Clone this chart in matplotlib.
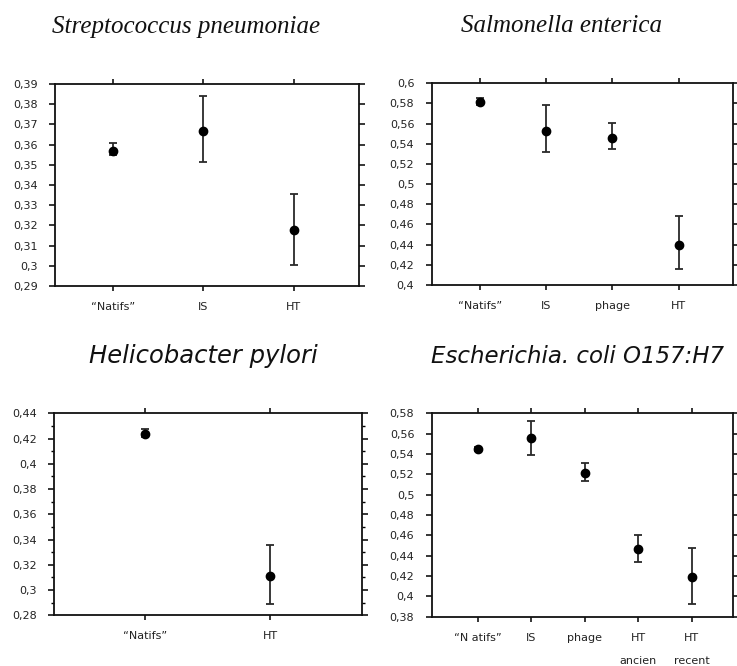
import matplotlib
matplotlib.use("Agg")
import matplotlib.pyplot as plt
from matplotlib.ticker import FuncFormatter, MultipleLocator
import numpy as np

# ---- data ----
sp_cats = ["\u201cNatifs\u201d", "IS", "HT"]
sp_vals = [0.3567, 0.3667, 0.3175]
sp_low = [0.3547, 0.3513, 0.3005]
sp_high = [0.3610, 0.3840, 0.3357]

se_cats = ["\u201cNatifs\u201d", "IS", "phage", "HT"]
se_vals = [0.5818, 0.5524, 0.5455, 0.4397]
se_low = [0.5785, 0.5322, 0.5345, 0.4155]
se_high = [0.5858, 0.5782, 0.5603, 0.4681]

hp_cats = ["\u201cNatifs\u201d", "HT"]
hp_vals = [0.4240, 0.3114]
hp_low = [0.4215, 0.2887]
hp_high = [0.4273, 0.3355]

ec_cats = ["\u201cN atifs\u201d", "IS", "phage", "HT\nancien", "HT\nrecent"]
ec_vals = [0.5450, 0.5554, 0.5213, 0.4466, 0.4190]
ec_low = [0.5430, 0.5393, 0.5134, 0.4334, 0.3921]
ec_high = [0.5472, 0.5725, 0.5315, 0.4607, 0.4472]

titles = ["Streptococcus pneumoniae", "Salmonella enterica",
          "Helicobacter pylori", "Escherichia. coli O157:H7"]

plt.rcParams['font.family'] = ['DejaVu Sans']

fig = plt.figure(figsize=(7.37, 6.66), dpi=100)
W, H = 737.0, 666.0


def ax_at(x0, y0, x1, y1):
    return fig.add_axes([x0 / W, 1 - y1 / H, (x1 - x0) / W, (y1 - y0) / H])


def fmt(v, pos):
    s = ("%.2f" % v).rstrip("0").rstrip(".")
    return s.replace(".", ",")


def panel(ax, cats, vals, low, high, ylim, major, xlim, minor=None):
    x = np.arange(len(cats))
    vals = np.array(vals)
    yerr = [vals - np.array(low), np.array(high) - vals]
    ax.errorbar(x, vals, yerr=yerr, fmt='o', color='black', ecolor='#2a2a2a',
                elinewidth=1.3, capsize=3.2, capthick=1.3, markersize=6, zorder=3)
    ax.set_xlim(*xlim)
    ax.set_ylim(*ylim)
    ax.set_xticks(x)
    ax.set_xticklabels(cats, fontsize=8, color='#222222', linespacing=2.7, va='top')
    ax.yaxis.set_major_locator(MultipleLocator(major))
    if minor:
        ax.yaxis.set_minor_locator(MultipleLocator(minor))
    ax.yaxis.set_major_formatter(FuncFormatter(fmt))
    for sp in ax.spines.values():
        sp.set_linewidth(1.3)
        sp.set_color('#111111')
    ax.tick_params(axis='y', which='major', direction='out', length=4.5, width=1.1,
                   left=True, right=True, labelsize=8, labelcolor='#222222', pad=8)
    ax.tick_params(axis='y', which='minor', direction='out', length=2.5, width=1.0,
                   left=True, right=True)
    ax.tick_params(axis='x', which='major', direction='out', length=3.5, width=1.1,
                   top=True, bottom=True, pad=8)


ax1 = ax_at(55, 84, 359, 286)
panel(ax1, sp_cats, sp_vals, sp_low, sp_high, (0.29, 0.39), 0.01, (-0.64, 2.72))
ax2 = ax_at(431.7, 83.3, 733, 285)
panel(ax2, se_cats, se_vals, se_low, se_high, (0.4, 0.6), 0.02, (-0.73, 3.82))
ax3 = ax_at(54, 413.3, 361.7, 615.3)
panel(ax3, hp_cats, hp_vals, hp_low, hp_high, (0.28, 0.44), 0.02, (-0.73, 1.73), minor=0.01)
ax4 = ax_at(431.7, 413.3, 733.3, 616.7)
panel(ax4, ec_cats, ec_vals, ec_low, ec_high, (0.38, 0.58), 0.02, (-0.863, 4.78))

fig.text(186.5 / W, 1 - 33 / H, titles[0], ha='center', va='baseline',
         fontsize=18, style='italic', family='Liberation Serif', color='#111111')
fig.text(561.5 / W, 1 - 32 / H, titles[1], ha='center', va='baseline',
         fontsize=18, style='italic', family='Liberation Serif', color='#111111')
fig.text(203.5 / W, 1 - 363 / H, titles[2], ha='center', va='baseline',
         fontsize=17.5, style='italic', family='DejaVu Sans', color='#111111')
fig.text(577.5 / W, 1 - 363 / H, titles[3], ha='center', va='baseline',
         fontsize=16.5, style='italic', family='DejaVu Sans', color='#111111')

fig.savefig("out.png", dpi=100)
